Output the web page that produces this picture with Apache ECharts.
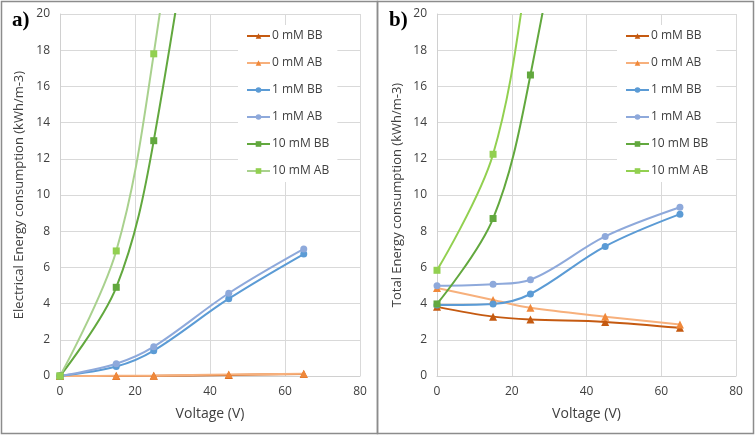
<!DOCTYPE html>
<html>
<head>
<meta charset="utf-8">
<script src="https://cdn.jsdelivr.net/npm/echarts@6/dist/echarts.min.js"></script>
<style>
html,body{margin:0;padding:0;background:#fff;}
#chart{width:756px;height:436px;}
</style>
</head>
<body>
<div id="chart"></div>
<script>
// ---- data ----
var voltage = [0, 15, 25, 45, 65];
var seriesNames = ['0 mM BB', '0 mM AB', '1 mM BB', '1 mM AB', '10 mM BB', '10 mM AB'];

// Panel a) Electrical energy consumption
var elec0BB  = [0, 0.00, 0.01, 0.06, 0.11];
var elec0AB  = [0, 0.01, 0.02, 0.08, 0.13];
var elec1BB  = [0, 0.52, 1.40, 4.27, 6.74];
var elec1AB  = [0, 0.68, 1.62, 4.57, 7.02];
var elec10BB = [0, 4.90, 13.0, 40, 70];
var elec10AB = [0, 6.91, 17.8, 48, 80];

// Panel b) Total energy consumption
var tot0BB  = [3.82, 3.28, 3.12, 2.99, 2.66];
var tot0AB  = [4.86, 4.20, 3.77, 3.28, 2.84];
var tot1BB  = [3.92, 3.98, 4.53, 7.16, 8.94];
var tot1AB  = [4.99, 5.07, 5.32, 7.71, 9.32];
var tot10BB = [3.98, 8.70, 16.63, 40, 70];
var tot10AB = [5.84, 12.25, 23.5, 50, 80];

var xTicks = [0, 20, 40, 60, 80];
var yTicks = [0, 2, 4, 6, 8, 10, 12, 14, 16, 18, 20];

// ---- styles ----
var FONT = '"Open Sans", sans-serif';
var styleA = [
  {line: '#C55A11', mark: '#C55A11', sym: 'triangle'},
  {line: '#F7B07C', mark: '#F0883A', sym: 'triangle'},
  {line: '#5B9BD5', mark: '#5B9BD5', sym: 'circle'},
  {line: '#8EA9DB', mark: '#8EA9DB', sym: 'circle'},
  {line: '#62A83E', mark: '#62A83E', sym: 'rect'},
  {line: '#A9D18E', mark: '#92D050', sym: 'rect'}
];
var styleB = [
  {line: '#C55A11', mark: '#C55A11', sym: 'triangle'},
  {line: '#F7B07C', mark: '#F0883A', sym: 'triangle'},
  {line: '#5B9BD5', mark: '#5B9BD5', sym: 'circle'},
  {line: '#8EA9DB', mark: '#8EA9DB', sym: 'circle'},
  {line: '#62A83E', mark: '#62A83E', sym: 'rect'},
  {line: '#92D050', mark: '#92D050', sym: 'rect'}
];

function pairs(ys) { return voltage.map(function (v, i) { return [v, ys[i]]; }); }

function mkSeries(name, ys, st, idx) {
  return {
    type: 'line', name: name, data: pairs(ys),
    xAxisIndex: idx, yAxisIndex: idx,
    smooth: 0.35, symbol: st.sym, symbolSize: st.sym === 'triangle' ? 8 : 7,
    showAllSymbol: true, clip: true,
    lineStyle: {color: st.line, width: 2},
    itemStyle: {color: st.mark},
    emphasis: {disabled: true}
  };
}

var dataA = [elec0BB, elec0AB, elec1BB, elec1AB, elec10BB, elec10AB];
var dataB = [tot0BB, tot0AB, tot1BB, tot1AB, tot10BB, tot10AB];
var series = [];
dataA.forEach(function (d, i) { series.push(mkSeries(seriesNames[i], d, styleA[i], 0)); });
dataB.forEach(function (d, i) { series.push(mkSeries(seriesNames[i], d, styleB[i], 1)); });

function xAx(idx) {
  return {
    type: 'value', gridIndex: idx, min: xTicks[0], max: xTicks[xTicks.length - 1], interval: 20,
    name: 'Voltage (V)', nameLocation: 'middle', nameGap: 31,
    nameTextStyle: {fontFamily: FONT, fontSize: 14, color: '#404040'},
    axisLine: {show: true, lineStyle: {color: '#D0D0D0', width: 1}},
    axisTick: {show: false},
    axisLabel: {fontFamily: FONT, fontSize: 12, color: '#404040', margin: 10},
    splitLine: {show: true, lineStyle: {color: '#D9D9D9', width: 1}}
  };
}
function yAx(idx, name, gap) {
  return {
    type: 'value', gridIndex: idx, min: yTicks[0], max: yTicks[yTicks.length - 1], interval: 2,
    name: name, nameLocation: 'middle', nameGap: gap, nameRotate: 90,
    nameTextStyle: {fontFamily: FONT, fontSize: 13, color: '#404040'},
    axisLine: {show: true, lineStyle: {color: '#D0D0D0', width: 1}},
    axisTick: {show: false},
    axisLabel: {fontFamily: FONT, fontSize: 12, color: '#404040', margin: 10},
    splitLine: {show: true, lineStyle: {color: '#D9D9D9', width: 1}}
  };
}

function legendFor(left, styles) {
  return {
    left: left, top: 25, orient: 'vertical',
    data: seriesNames.map(function (n, i) {
      return {name: n, itemStyle: {color: styles[i].mark}, lineStyle: {color: styles[i].line, width: 2}};
    }),
    itemWidth: 23, itemHeight: 7, itemGap: 15,
    backgroundColor: '#ffffff', padding: [5, 8, 5, 8],
    textStyle: {fontFamily: FONT, fontSize: 12, color: '#404040', padding: [0, 0, 0, -3]},
    selectedMode: false
  };
}

var chart = echarts.init(document.getElementById('chart'), null, {renderer: 'canvas'});
chart.setOption({
  animation: false,
  backgroundColor: '#ffffff',
  title: [
    {text: 'a)', left: 7, top: 5, textStyle: {fontFamily: '"Liberation Serif", serif', fontWeight: 'bold', fontSize: 21, color: '#000'}},
    {text: 'b)', left: 384, top: 5, textStyle: {fontFamily: '"Liberation Serif", serif', fontWeight: 'bold', fontSize: 21, color: '#000'}}
  ],
  grid: [
    {left: 60, top: 14, width: 300, height: 362},
    {left: 437, top: 14, width: 299, height: 362}
  ],
  xAxis: [xAx(0), xAx(1)],
  yAxis: [yAx(0, 'Electrical Energy consumption (kWh/m-3)', 34), yAx(1, 'Total Energy consumption (kWh/m-3)', 33)],
  legend: [legendFor(238, styleA), legendFor(617, styleB)],
  series: series,
  graphic: [
    {type: 'rect', shape: {x: 1.5, y: 1.5, width: 376, height: 432}, style: {fill: null, stroke: '#8C8C8C', lineWidth: 1.5}, silent: true, z: 100},
    {type: 'rect', shape: {x: 377.5, y: 1.5, width: 376, height: 432}, style: {fill: null, stroke: '#8C8C8C', lineWidth: 1.5}, silent: true, z: 100}
  ]
});
</script>
</body>
</html>
